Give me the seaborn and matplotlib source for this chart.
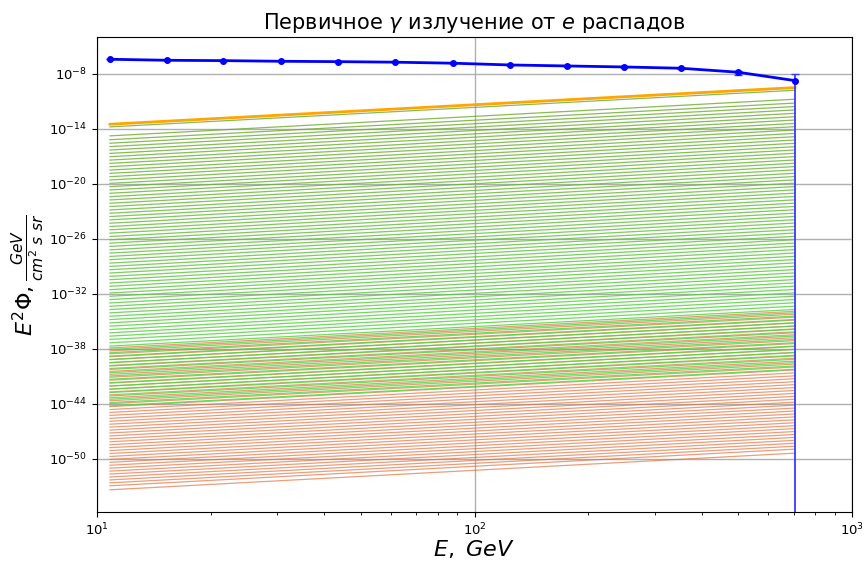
import matplotlib
matplotlib.use('Agg')
import matplotlib.pyplot as plt
import matplotlib.ticker as mticker
import seaborn as sns
import pandas as pd
import numpy as np

# measured points (blue)
energy = [10.82, 15.30, 21.57, 30.66, 43.42, 61.55, 87.56, 124.2, 175.5, 248.9, 351.8, 498.1, 706.3]
flux = [3.98e-7, 3.09e-7, 2.82e-7, 2.40e-7, 2.19e-7, 1.91e-7, 1.48e-7, 9.5e-8, 7.4e-8, 5.75e-8, 4.17e-8, 1.55e-8, 1.86e-9]
flux_err = [2e-9, 2e-9, 2e-9, 2e-9, 2.5e-9, 3e-9, 3e-9, 3e-9, 4e-9, 5e-9, 5e-9, 7.5e-9, 7.4e-9]

# model lines: log10 level at left end, same power law rise for every line
line_e = [10.82, 706.3]
line_rise = 4.0
orange_level = -13.49
green_levels = [-13.78, -14.76, -15.18, -15.56, -15.93, -16.30, -16.67, -17.03, -17.40, -17.76,
                -18.12, -18.49, -18.85, -19.21, -19.57, -19.94, -20.30, -20.66, -21.02, -21.39,
                -21.75, -22.11, -22.47, -22.84, -23.20, -23.56, -23.92, -24.29, -24.65, -25.01,
                -25.37, -25.74, -26.10, -26.46, -26.82, -27.19, -27.55, -27.91, -28.27, -28.64,
                -29.00, -29.36, -29.72, -30.09, -30.45, -30.81, -31.17, -31.54, -31.90, -32.26,
                -32.62, -32.99, -33.35, -33.71, -34.07, -34.44, -34.80, -35.16, -35.52, -35.89,
                -36.25, -36.61, -36.97, -37.34, -37.70, -38.06, -38.42, -38.79, -39.15, -39.51,
                -39.87, -40.24, -40.60, -40.96, -41.32, -41.69, -42.05, -42.41, -42.77, -43.14,
                -43.50, -43.86, -44.22]
red_levels = [-37.90, -38.22, -38.54, -38.86, -39.18,
              -39.50, -39.82, -40.14, -40.46, -40.78, -41.10, -41.42, -41.74, -42.06, -42.38,
              -42.70, -43.02, -43.34, -43.66, -43.98, -44.30, -44.62, -44.94, -45.26, -45.58,
              -45.90, -46.22, -46.54, -46.86, -47.18, -47.50, -47.82, -48.14, -48.46, -48.78,
              -49.10, -49.42, -49.74, -50.06, -50.38, -50.70, -51.02, -51.34, -51.66, -51.98,
              -52.30, -52.62, -52.94, -53.38]


def lines_frame(levels, tag):
    rows = []
    for i, lv in enumerate(levels):
        rows.append((tag + str(i), line_e[0], 10.0 ** lv))
        rows.append((tag + str(i), line_e[1], 10.0 ** (lv + line_rise)))
    return pd.DataFrame(rows, columns=['line', 'E', 'flux'])


fig = plt.figure(figsize=(8.68, 5.63), dpi=100)
ax = fig.add_axes([0.1118, 0.0906, 0.8698, 0.8437])
ax.set_xscale('log')
ax.set_yscale('log')

# red family first, green drawn over it
dfr = lines_frame(red_levels, 'r')
sns.lineplot(data=dfr, x='E', y='flux', hue='line',
             palette=['#e06a35'] * len(red_levels),
             legend=False, linewidth=0.9, alpha=0.65, estimator=None, sort=False, ax=ax)
dfg = lines_frame(green_levels, 'g')
sns.lineplot(data=dfg, x='E', y='flux', hue='line',
             palette=sns.blend_palette(['#6aaa2a', '#5cc03a', '#40e03a'], len(green_levels)),
             legend=False, linewidth=0.9, alpha=0.8, estimator=None, sort=False, ax=ax)

ax.plot(line_e, [10.0 ** orange_level, 10.0 ** (orange_level + line_rise)], color='orange', lw=2)

ax.errorbar(energy, flux, yerr=flux_err, fmt='o-', color='blue', ms=4, lw=2,
            ecolor='#3a3aff', elinewidth=1.3, capsize=3)

ax.set_xlim(10, 1000)
ax.set_ylim(10.0 ** -55.8, 10.0 ** -3.97)
ax.set_yticks([10.0 ** k for k in range(-50, -7, 6)])
ax.yaxis.set_minor_locator(mticker.NullLocator())
ax.tick_params(labelsize=9.5)
ax.grid(True, which='major', color='#b0b0b0', lw=1)

ax.set_title(r'Первичное $\gamma$ излучение от $e$ распадов', fontsize=15)
ax.set_xlabel(r'$E,\ GeV$', fontsize=16, labelpad=0)
ax.set_ylabel(r'$E^2\Phi, \frac{GeV}{cm^2\ s\ sr}$', fontsize=16, labelpad=2)

fig.savefig('out.png', dpi=100)
